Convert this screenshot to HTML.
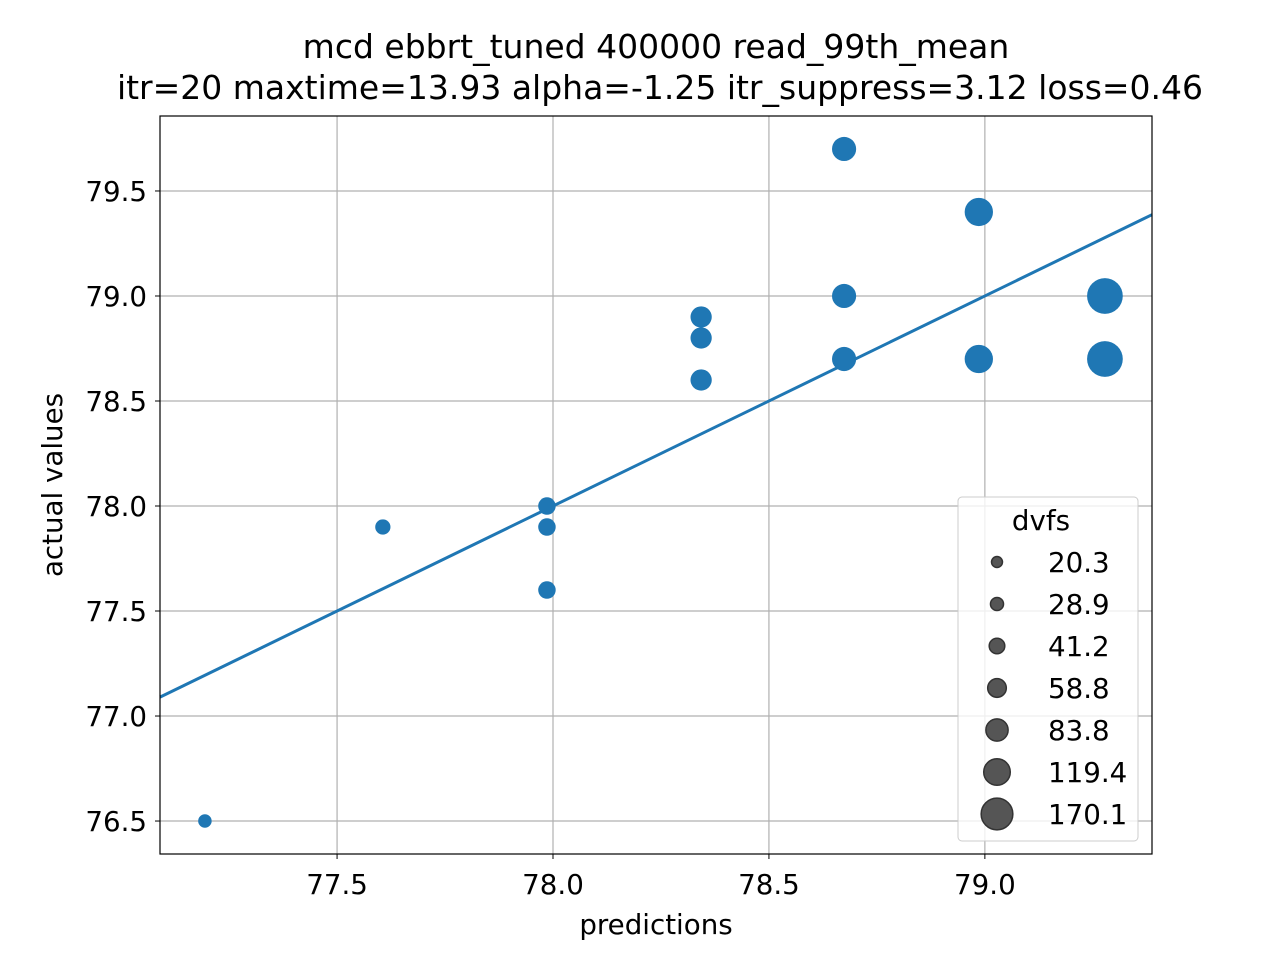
<!DOCTYPE html>
<html><head><meta charset="utf-8"><style>
body{margin:0;background:#fff}
svg text{font-family:"DejaVu Sans","Liberation Sans",sans-serif;fill:#000}
</style></head><body>
<svg id="chart" width="1280" height="960" xmlns="http://www.w3.org/2000/svg">
<rect width="1280" height="960" fill="#fff"/>
<text x="656" y="58" font-size="33" text-anchor="middle">mcd ebbrt_tuned 400000 read_99th_mean</text>
<text x="660" y="99" font-size="33" text-anchor="middle">itr=20 maxtime=13.93 alpha=-1.25 itr_suppress=3.12 loss=0.46</text>
<g id="grid"></g><g id="ticks"></g>
<g id="fitline"></g><g id="points"></g>
<rect x="160" y="116" width="992" height="738" fill="none" stroke="#000" stroke-width="1.2"/>
<text x="656" y="934" font-size="27.7" text-anchor="middle">predictions</text>
<text transform="translate(62,485) rotate(-90)" font-size="27.7" text-anchor="middle">actual values</text>
<g id="legend">
<rect x="958" y="497" width="180" height="344" rx="4" fill="#fff" fill-opacity="0.8" stroke="#ccc"/>
<text x="1041" y="530" font-size="27.7" text-anchor="middle">dvfs</text>
</g>
</svg>
<script>
const predictions=[77.194,77.606,77.986,77.986,77.986,78.343,78.343,78.343,78.674,78.674,78.674,78.986,78.986,79.278,79.278];
const actuals=[76.5,77.9,78.0,77.9,77.6,78.9,78.8,78.6,79.7,79.0,78.7,79.4,78.7,79.0,78.7];
const dvfs=[25,32,42,42,42,62,62,62,80,80,80,110,110,175,175];
const legendValues=[20.3,28.9,41.2,58.8,83.8,119.4,170.1];
const xTicks=[77.5,78.0,78.5,79.0];
const yTicks=[76.5,77.0,77.5,78.0,78.5,79.0,79.5];
const X0=160,X1=1152,Y0=116,Y1=854,xmin=77.09,xmax=79.387,ymin=76.343,ymax=79.857;
const sx=v=>X0+(v-xmin)/(xmax-xmin)*(X1-X0);
const sy=v=>Y1-(v-ymin)/(ymax-ymin)*(Y1-Y0);
const rad=v=>Math.sqrt(v)*1.35;
const NS='http://www.w3.org/2000/svg';
function mk(tag,attrs,parent){const e=document.createElementNS(NS,tag);for(const k in attrs)e.setAttribute(k,attrs[k]);parent.appendChild(e);return e;}
const grid=document.getElementById('grid'),ticks=document.getElementById('ticks');
xTicks.forEach(t=>{const x=sx(t);
 let l=mk('line',{x1:x,x2:x,y1:Y0,y2:Y1,stroke:'#b0b0b0','stroke-width':1.2},grid);
 
 
 let tk=mk('line',{x1:x,x2:x,y1:Y1,y2:Y1+5,stroke:'#000'},ticks);
 
 
 let tx=mk('text',{x:x,y:Y1+40,'font-size':27.7,'text-anchor':'middle'},ticks);tx.textContent=t.toFixed(1);
 
 });
yTicks.forEach(t=>{const y=sy(t);
 let l=mk('line',{x1:X0,x2:X1,y1:y,y2:y,stroke:'#b0b0b0','stroke-width':1.2},grid);
 
 
 let tk=mk('line',{x1:X0-5,x2:X0,y1:y,y2:y,stroke:'#000'},ticks);
 
 
 let tx=mk('text',{x:X0-13,y:y+10,'font-size':27.7,'text-anchor':'end'},ticks);tx.textContent=t.toFixed(1);
 
 });
const fl=mk('line',{x1:sx(xmin),y1:sy(xmin),x2:sx(xmax),y2:sy(xmax),stroke:'#1f77b4','stroke-width':3},document.getElementById('fitline'));


const pts=document.getElementById('points');
predictions.forEach((p,i)=>{const c=mk('circle',{cx:sx(p),cy:sy(actuals[i]),r:rad(dvfs[i]),fill:'#1f77b4'},pts);
 
 });
const lg=document.getElementById('legend');
legendValues.forEach((v,i)=>{const y=562+i*42;
 const c=mk('circle',{cx:997,cy:y,r:rad(v)*0.9,fill:'#555','stroke':'#333','stroke-width':1.5},lg);
 
 
 const t=mk('text',{x:1048,y:y+10,'font-size':27.7},lg);t.textContent=v.toFixed(1);
 
 });
</script>
</body></html>
